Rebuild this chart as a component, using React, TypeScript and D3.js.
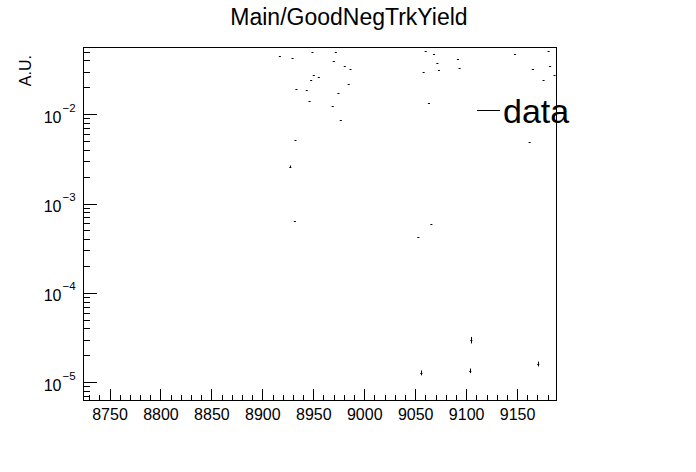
import React from "react";
import * as d3 from "d3";

const title = "Main/GoodNegTrkYield";
const yTitle = "A.U.";
const legendLabel = "data";

const xTicks = [8750, 8800, 8850, 8900, 8950, 9000, 9050, 9100, 9150];
const yDecades = [-5, -4, -3, -2];

const runX = [
  8916.7, 8929.1, 8948.7, 8971.6, 8969.6, 8980.4, 8986.0, 8950.0, 8954.9, 8947.4,
  8984.3, 8933.0, 8943.1, 8974.2, 8945.8, 8968.6, 8976.5, 8932.0, 8927.0, 8931.4,
  9059.8, 9068.0, 9071.3, 9057.8, 9072.8, 9091.5, 9093.1, 9147.4, 9180.4, 9181.9,
  9165.0, 9175.5, 9186.3, 9063.0, 9161.8, 9065.4, 9052.6, 9104.6, 9103.6, 9055.6,
  9170.3,
];
const yieldY = [
  0.0454, 0.0428, 0.050, 0.050, 0.0396, 0.0351, 0.0322, 0.0278, 0.0262, 0.0244,
  0.0219, 0.0192, 0.0188, 0.0174, 0.0141, 0.0124, 0.00879, 0.00517, 0.00262, 0.000646,
  0.052, 0.0479, 0.0382, 0.0299, 0.0316, 0.0417, 0.0333, 0.0479, 0.052, 0.0351,
  0.0322, 0.0244, 0.0278, 0.0134, 0.00491, 0.000593, 0.000431, 0.0000300, 0.0000136, 0.0000129,
  0.0000162,
];
const yieldErr = [
  0.0003, 0.0003, 0.0003, 0.0003, 0.0003, 0.0002, 0.0002, 0.0002, 0.0002, 0.0002,
  0.0002, 0.0001, 0.0001, 0.0001, 0.0001, 0.0001, 0.0001, 0.00005, 0.00008, 0.00001,
  0.0003, 0.0003, 0.0003, 0.0002, 0.0002, 0.0003, 0.0002, 0.0003, 0.0003, 0.0002,
  0.0002, 0.0002, 0.0002, 0.0001, 0.00005, 0.00001, 0.00001, 0.0000025, 0.0000008, 0.0000008,
  0.000001,
];
const binHalfWidth = 1;

const W = 696;
const H = 472;
const L = 83;
const R = 556;
const T = 47;
const B = 400;

export default function App() {
  const x = d3.scaleLinear().domain([8723.5, 9187.7]).range([L, R]);
  const y = d3.scaleLog().domain([6.4e-6, 0.0573]).range([B, T]);

  const xMinor = d3.range(8730, 9188, 10).filter((v) => v % 50 !== 0);
  const yMinor: number[] = [];
  for (let e = -6; e <= -2; e++) {
    for (let m = 2; m <= 9; m++) {
      const v = m * Math.pow(10, e);
      if (v >= 6.4e-6 && v <= 0.0573) yMinor.push(v);
    }
  }
  const font = "'Liberation Sans', Arial, Helvetica, sans-serif";

  return (
    <svg
      width={W}
      height={H}
      style={{ position: "absolute", left: 0, top: 0, background: "#fff" }}
      fontFamily={font}
    >
      <rect x={0} y={0} width={W} height={H} fill="#fff" />
      <text x={349} y={25} textAnchor="middle" fontSize={23} fill="#000">
        {title}
      </text>
      {/* frame */}
      <rect x={L} y={T} width={R - L} height={B - T} fill="none" stroke="#000" strokeWidth={1} shapeRendering="crispEdges" />
      {/* x ticks */}
      {xTicks.map((v) => (
        <g key={"xt" + v}>
          <line x1={x(v)} x2={x(v)} y1={B} y2={B - 11} stroke="#000" shapeRendering="crispEdges" />
          <text x={x(v)} y={420} textAnchor="middle" fontSize={16} fill="#000">
            {v}
          </text>
        </g>
      ))}
      {xMinor.map((v) => (
        <line key={"xm" + v} x1={x(v)} x2={x(v)} y1={B} y2={B - 5.5} stroke="#000" shapeRendering="crispEdges" />
      ))}
      {/* y ticks */}
      {yDecades.map((e) => {
        const v = Math.pow(10, e);
        return (
          <g key={"yt" + e}>
            <line x1={L} x2={L + 14} y1={y(v)} y2={y(v)} stroke="#000" shapeRendering="crispEdges" />
            <text x={61.5} y={y(v) + 8} textAnchor="end" fontSize={16} fill="#000">
              10
            </text>
            <text x={62.5} y={y(v) - 3} textAnchor="start" fontSize={11.5} fill="#000">
              {"\u2212" + Math.abs(e)}
            </text>
          </g>
        );
      })}
      {yMinor.map((v, i) => (
        <line key={"ym" + i} x1={L} x2={L + 7} y1={y(v)} y2={y(v)} stroke="#000" shapeRendering="crispEdges" />
      ))}
      <text
        transform={`translate(31,${T + 8}) rotate(-90)`}
        textAnchor="end"
        fontSize={16}
        fill="#000"
      >
        {yTitle}
      </text>
      {/* data points */}
      {runX.map((rx, i) => {
        const cy = y(yieldY[i]);
        const lo = y(Math.max(yieldY[i] - yieldErr[i], 1e-9));
        const hi = y(yieldY[i] + yieldErr[i]);
        return (
          <g key={"p" + i}>
            <line
              x1={x(rx - binHalfWidth)}
              x2={x(rx + binHalfWidth)}
              y1={Math.round(cy) + 0.5}
              y2={Math.round(cy) + 0.5}
              stroke="#000"
              strokeWidth={1}
            />
            {lo - hi >= 2 && (
              <line
                x1={Math.round(x(rx)) + 0.5}
                x2={Math.round(x(rx)) + 0.5}
                y1={hi}
                y2={lo}
                stroke="#000"
                strokeWidth={1}
              />
            )}
          </g>
        );
      })}
      {/* legend */}
      <line x1={477} x2={500} y1={110.5} y2={110.5} stroke="#000" strokeWidth={1} />
      <text x={503} y={123} fontSize={34} fill="#000">
        {legendLabel}
      </text>
    </svg>
  );
}
